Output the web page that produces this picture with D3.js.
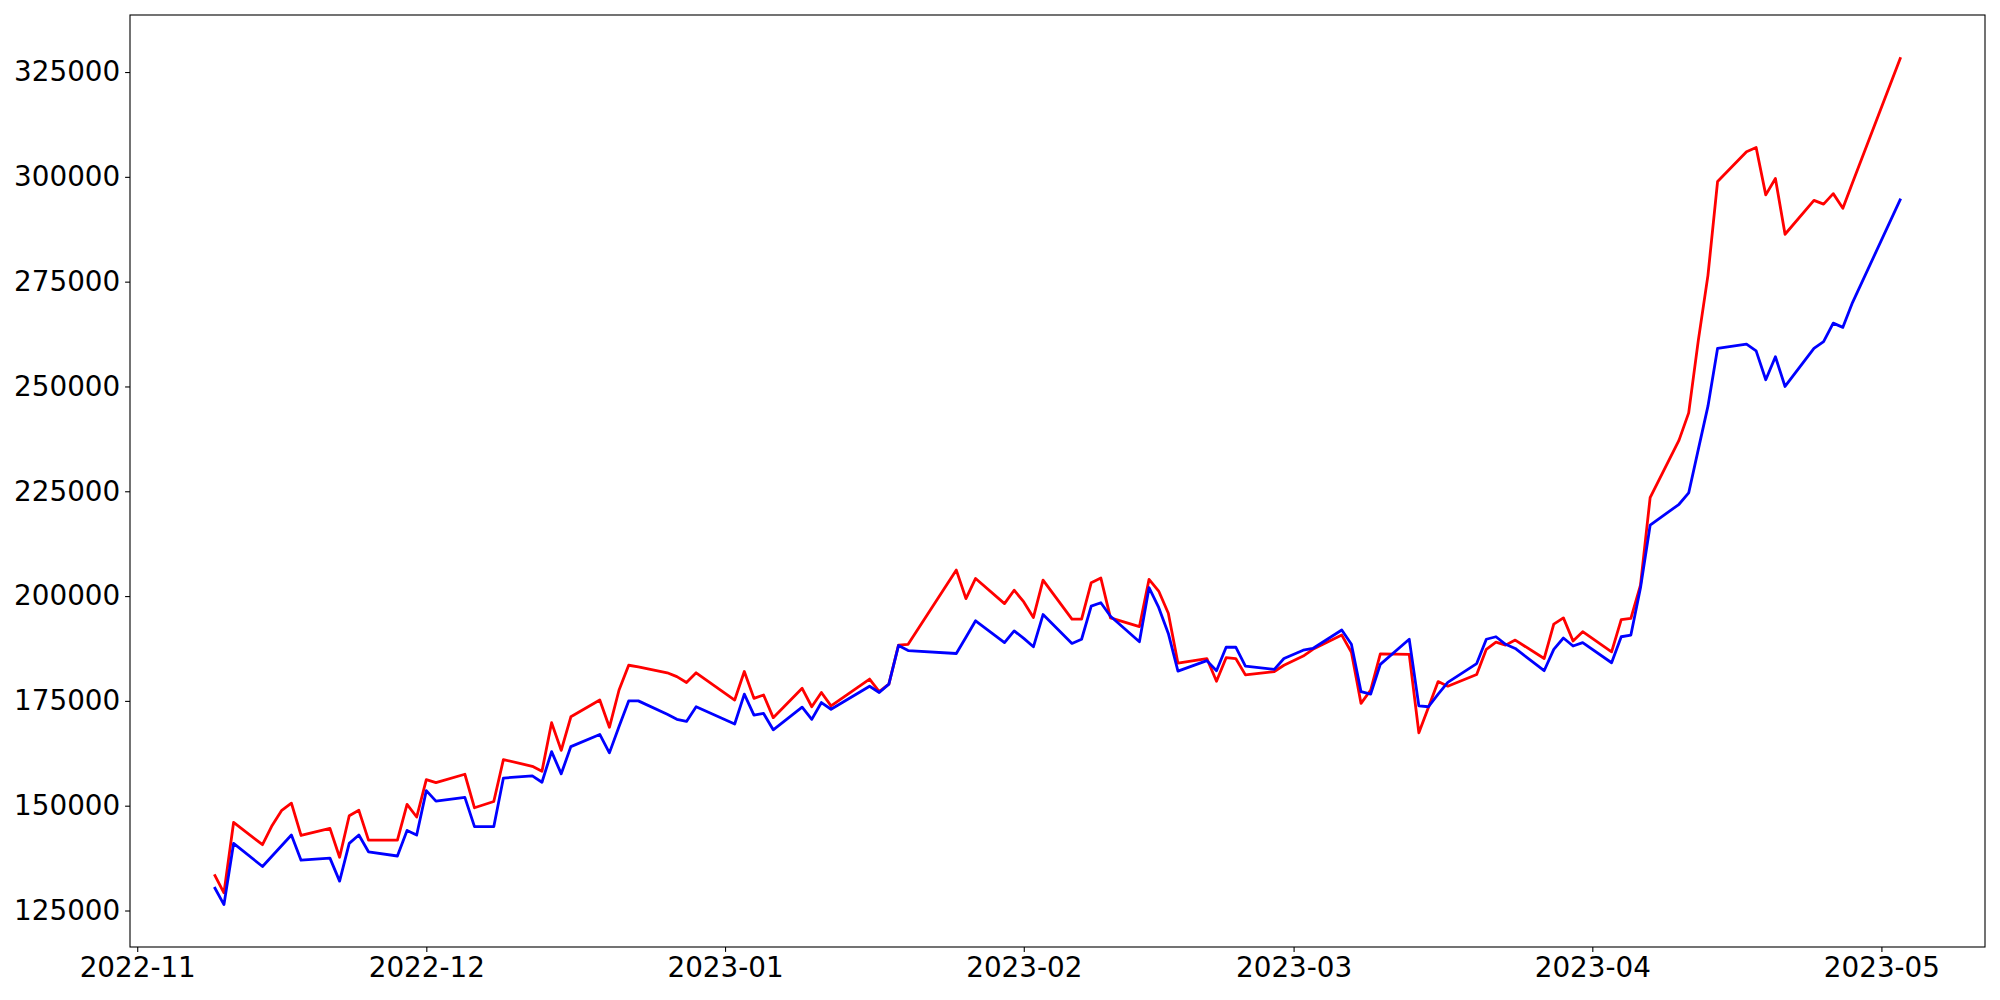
<!DOCTYPE html>
<html>
<head>
<meta charset="utf-8">
<script src="https://cdn.jsdelivr.net/npm/d3@7"></script>
<style>
  body { margin: 0; background: #fff; }
  .tick text { font-family: "DejaVu Sans", sans-serif; }
</style>
</head>
<body>
<div id="chart"></div>
<script>
// trading days
var dates = [
  "2022-11-09","2022-11-10","2022-11-11","2022-11-14","2022-11-15","2022-11-16","2022-11-17","2022-11-18",
  "2022-11-21","2022-11-22","2022-11-23","2022-11-24","2022-11-25","2022-11-28","2022-11-29","2022-11-30",
  "2022-12-01","2022-12-02","2022-12-05","2022-12-06","2022-12-08","2022-12-09","2022-12-12","2022-12-13",
  "2022-12-14","2022-12-15","2022-12-16","2022-12-19","2022-12-20","2022-12-21","2022-12-22","2022-12-23",
  "2022-12-26","2022-12-27","2022-12-28","2022-12-29","2023-01-02","2023-01-03","2023-01-04","2023-01-05",
  "2023-01-06","2023-01-09","2023-01-10","2023-01-11","2023-01-12","2023-01-16","2023-01-17","2023-01-18",
  "2023-01-19","2023-01-20","2023-01-25","2023-01-26","2023-01-27","2023-01-30","2023-01-31","2023-02-01",
  "2023-02-02","2023-02-03","2023-02-06","2023-02-07","2023-02-08","2023-02-09","2023-02-10","2023-02-13",
  "2023-02-14","2023-02-15","2023-02-16","2023-02-17","2023-02-20","2023-02-21","2023-02-22","2023-02-23",
  "2023-02-24","2023-02-27","2023-02-28","2023-03-02","2023-03-03","2023-03-06","2023-03-07","2023-03-08",
  "2023-03-09","2023-03-10","2023-03-13","2023-03-14","2023-03-15","2023-03-16","2023-03-17","2023-03-20",
  "2023-03-21","2023-03-22","2023-03-23","2023-03-24","2023-03-27","2023-03-28","2023-03-29","2023-03-30",
  "2023-03-31","2023-04-03","2023-04-04","2023-04-05","2023-04-06","2023-04-07","2023-04-10","2023-04-11",
  "2023-04-12","2023-04-13","2023-04-14","2023-04-17","2023-04-18","2023-04-19","2023-04-20","2023-04-21",
  "2023-04-24","2023-04-25","2023-04-26","2023-04-27","2023-04-28","2023-05-03"
];

var redValues = [
  133600,129200,146000,140700,145300,148900,150600,142900,
  144600,137700,147600,148900,141800,141800,150300,147300,
  156200,155500,157500,149500,151000,161000,159400,158200,
  169800,163200,171200,175200,168700,177600,183500,183100,
  181700,180800,179400,181700,175200,182000,175600,176400,
  171000,178000,173600,177000,173800,180200,177200,179000,
  188300,188500,206200,199400,204200,198200,201400,198600,
  194900,203800,194500,194500,203200,204300,194800,192700,
  204000,201200,195900,184000,185100,179700,185300,185100,
  181200,182000,183500,185700,187300,190700,186600,174400,
  177600,186200,186100,167400,173500,179600,178500,181300,
  187300,189000,188300,189500,185100,193300,194800,189300,
  191500,186700,194400,194700,202600,223500,237200,243700,
  261000,276500,298900,306000,307000,295700,299600,286300,
  294400,293500,296000,292500,298600,328500
];

var blueValues = [
  130600,126400,141000,135500,138000,140500,143000,137000,
  137500,132000,141000,143000,139000,138000,144100,143000,
  153600,151100,152000,145000,145000,156600,157100,155600,
  162900,157600,164100,167000,162600,168900,175000,175000,
  171800,170600,170100,173600,169500,176600,171600,172000,
  168100,173500,170600,174600,173000,178500,177000,179000,
  188200,187000,186300,190200,194100,188900,191700,189900,
  187900,195600,188700,189700,197600,198400,195200,189100,
  202000,197300,191100,182100,184600,182200,187800,187800,
  183300,182500,185100,187100,187500,191900,188500,177200,
  176600,183700,189700,173800,173600,176600,179400,183900,
  189700,190300,188500,187500,182200,187300,190000,188100,
  188900,184100,190300,190700,202000,216900,221900,224600,
  235000,245300,259100,260100,258500,251600,257100,250000,
  259100,260700,265100,264100,270000,294800
];

var yTicks = [125000,150000,175000,200000,225000,250000,275000,300000,325000];

// set the dimensions and margins of the graph
var margin = {top: 15, right: 15, bottom: 53, left: 130},
    width = 2000 - margin.left - margin.right,
    height = 1000 - margin.top - margin.bottom;

var parseDate = d3.utcParse("%Y-%m-%d");
var days = dates.map(parseDate);

// matplotlib style 5% padding around the data
var padX = width * 0.05 / 1.1,
    padY = height * 0.05 / 1.1;

var x = d3.scaleUtc()
    .domain(d3.extent(days))
    .range([padX, width - padX]);
// widen the domain so it covers the whole axes box
x.domain([x.invert(0), x.invert(width)]).range([0, width]);

var allValues = redValues.concat(blueValues);
var y = d3.scaleLinear()
    .domain(d3.extent(allValues))
    .range([height - padY, padY]);
y.domain([y.invert(height), y.invert(0)]).range([height, 0]);

var svg = d3.select("#chart").append("svg")
    .attr("width", width + margin.left + margin.right)
    .attr("height", height + margin.top + margin.bottom)
  .append("g")
    .attr("transform", "translate(" + margin.left + "," + margin.top + ")");

var line = d3.line()
    .x(function(d, i) { return x(days[i]); })
    .y(function(d) { return y(d); });

svg.append("path")
    .datum(redValues)
    .attr("fill", "none")
    .attr("stroke", "#ff0000")
    .attr("stroke-width", 2.8)
    .attr("stroke-linejoin", "round")
    .attr("d", line);

svg.append("path")
    .datum(blueValues)
    .attr("fill", "none")
    .attr("stroke", "#0000ff")
    .attr("stroke-width", 2.8)
    .attr("stroke-linejoin", "round")
    .attr("d", line);

// axes
var xAxis = svg.append("g")
    .attr("transform", "translate(0," + height + ")")
    .call(d3.axisBottom(x)
        .ticks(d3.utcMonth.every(1))
        .tickFormat(d3.utcFormat("%Y-%m"))
        .tickSize(4.9)
        .tickPadding(4.9));

var yAxis = svg.append("g")
    .call(d3.axisLeft(y)
        .tickValues(yTicks)
        .tickFormat(d3.format("d"))
        .tickSize(4.9)
        .tickPadding(4.9));

[xAxis, yAxis].forEach(function(a) {
  a.select(".domain").remove();
  a.selectAll(".tick line").attr("stroke", "#000").attr("stroke-width", 1.1);
  a.selectAll(".tick text")
      .attr("fill", "#000")
      .style("font-size", "27.8px");
});

// frame
svg.append("rect")
    .attr("width", width)
    .attr("height", height)
    .attr("fill", "none")
    .attr("stroke", "#000")
    .attr("stroke-width", 1.1);
</script>
</body>
</html>
